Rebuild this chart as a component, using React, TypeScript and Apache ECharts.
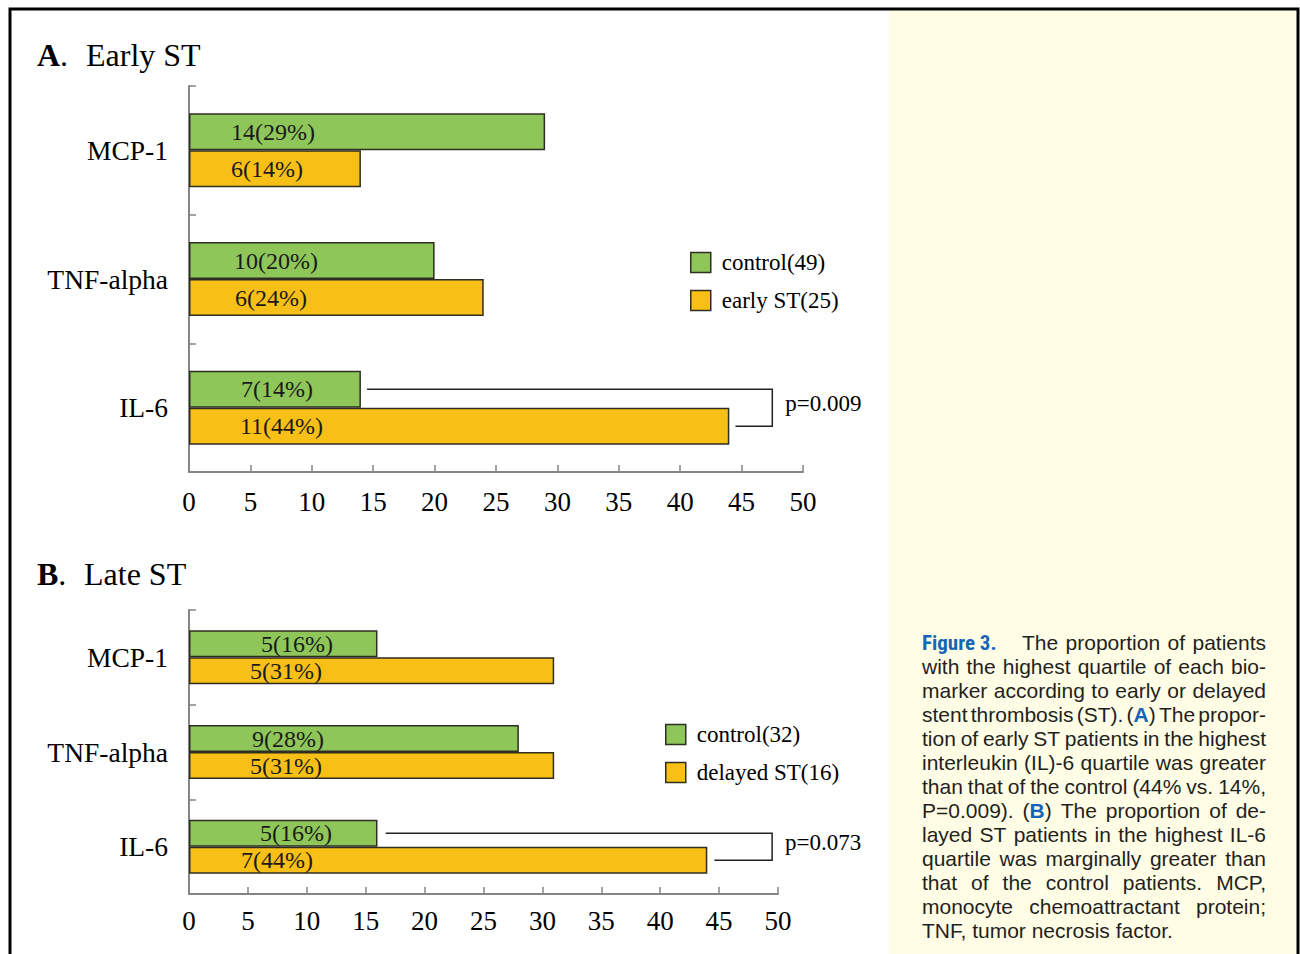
import React, { useEffect, useRef } from "react";
import * as echarts from "echarts";

// ---- data ----
const categories = ["MCP-1", "TNF-alpha", "IL-6"];
const earlyControlValues = [29, 20, 14];
const earlySTValues = [14, 24, 44];
const earlyControlLabels = ["14(29%)", "10(20%)", "7(14%)"];
const earlySTLabels = ["6(14%)", "6(24%)", "11(44%)"];
const lateControlValues = [16, 28, 16];
const lateSTValues = [31, 31, 44];
const lateControlLabels = ["5(16%)", "9(28%)", "5(16%)"];
const lateSTLabels = ["5(31%)", "5(31%)", "7(44%)"];
const legendA = ["control(49)", "early ST(25)"];
const legendB = ["control(32)", "delayed ST(16)"];
const pValueA = "p=0.009";
const pValueB = "p=0.073";
const captionHead = "Figure 3.";
const captionFirst = "The proportion of patients";
const captionLines = [
  "with the highest quartile of each bio-",
  "marker according to early or delayed",
  "stent thrombosis (ST). (A) The propor-",
  "tion of early ST patients in the highest",
  "interleukin (IL)-6 quartile was greater",
  "than that of the control (44% vs. 14%,",
  "P=0.009). (B) The proportion of de-",
  "layed ST patients in the highest IL-6",
  "quartile was marginally greater than",
  "that of the control patients. MCP,",
  "monocyte chemoattractant protein;",
  "TNF, tumor necrosis factor.",
];

// ---- styles (label insets in px from bar start) ----
const insetA = { control: [42, 45, 52], st: [42, 46, 51] };
const insetB = { control: [72, 63, 71], st: [61, 61, 52] };

const GREEN = "#8EC65A";
const YELLOW = "#F8BF17";
const BORDER = "#2e2e22";
const AXIS = "#858585";
const BLUE = "#1565B8";
const TEXT = "#231f20";
const SERIF = "'Liberation Serif', 'Times New Roman', serif";
const SANS = "'Liberation Sans', Arial, sans-serif";
const CAP_FONT = `21px ${SANS}`;
const CAP_BOLD = `bold 21px ${SANS}`;

function makeData(values: number[], insets: number[]) {
  return values.map((v, i) => ({
    value: v,
    label: { position: [insets[i], "50%"] },
  }));
}

function barSeries(
  name: string,
  values: number[],
  labels: string[],
  insets: number[],
  color: string,
  idx: number,
  width: number
) {
  return {
    type: "bar",
    name,
    xAxisIndex: idx,
    yAxisIndex: idx,
    barWidth: width,
    barGap: "0%",
    data: makeData(values, insets),
    itemStyle: { color, borderColor: BORDER, borderWidth: 1.5 },
    label: {
      show: true,
      align: "left",
      verticalAlign: "middle",
      fontFamily: SERIF,
      fontSize: 24,
      color: "#1a1a1a",
      formatter: (p: any) => labels[p.dataIndex],
    },
  };
}

function xAxis(gridIndex: number, margin: number) {
  return {
    type: "value",
    gridIndex,
    min: 0,
    max: 50,
    interval: 5,
    axisLine: { show: true, lineStyle: { color: AXIS, width: 2 } },
    axisTick: { show: true, inside: true, length: 7, lineStyle: { color: AXIS, width: 1.5 } },
    splitLine: { show: false },
    axisLabel: { fontFamily: SERIF, fontSize: 27, color: "#000", margin },
  };
}

function yAxis(gridIndex: number) {
  return {
    type: "category",
    gridIndex,
    data: categories,
    inverse: true,
    axisLine: { show: true, lineStyle: { color: AXIS, width: 2 } },
    axisTick: { show: true, inside: true, length: 7, lineStyle: { color: AXIS, width: 1.5 } },
    axisLabel: { fontFamily: SERIF, fontSize: 27.5, color: "#000", margin: 21 },
  };
}

function legend(data: string[], left: number, top: number) {
  return {
    data,
    orient: "vertical",
    left,
    top,
    itemWidth: 20,
    itemHeight: 20,
    itemGap: 15,
    icon: "rect",
    itemStyle: { borderColor: BORDER, borderWidth: 1.5 },
    textStyle: { fontFamily: SERIF, fontSize: 23, color: "#000", padding: [0, 0, 0, 6] },
    selectedMode: false,
  };
}

export default function App() {
  const ref = useRef<HTMLDivElement>(null);
  useEffect(() => {
    document.body.style.margin = "0";
    const chart = echarts.init(ref.current!, undefined, { renderer: "svg" });
    const option: any = {
      animation: false,
      backgroundColor: "#ffffff",
      grid: [
        { left: 189, top: 86, width: 614, height: 386 },
        { left: 189, top: 610, width: 589, height: 284 },
      ],
      xAxis: [xAxis(0, 16), xAxis(1, 13)],
      yAxis: [yAxis(0), yAxis(1)],
      legend: [legend(legendA, 685, 246), legend(legendB, 660, 718)],
      series: [
        barSeries(legendA[0], earlyControlValues, earlyControlLabels, insetA.control, GREEN, 0, 37),
        barSeries(legendA[1], earlySTValues, earlySTLabels, insetA.st, YELLOW, 0, 37),
        barSeries(legendB[0], lateControlValues, lateControlLabels, insetB.control, GREEN, 1, 27),
        barSeries(legendB[1], lateSTValues, lateSTLabels, insetB.st, YELLOW, 1, 27),
      ],
    };
    chart.setOption(option);

    // bracket annotations computed via the axes
    const bracket = (gi: number, topStart: number, right: number, botStart: number, half: number, text: string) => {
      const c = chart.convertToPixel({ gridIndex: gi } as any, [0, "IL-6"]) as number[];
      const xs = chart.convertToPixel({ gridIndex: gi } as any, [topStart, "IL-6"]) as number[];
      const xr = chart.convertToPixel({ gridIndex: gi } as any, [right, "IL-6"]) as number[];
      const xb = chart.convertToPixel({ gridIndex: gi } as any, [botStart, "IL-6"]) as number[];
      const yTop = c[1] - half;
      const yBot = c[1] + half;
      return [
        {
          type: "polyline",
          shape: { points: [[xs[0], yTop], [xr[0], yTop], [xr[0], yBot], [xb[0], yBot]] },
          style: { stroke: "#222", lineWidth: 1.5, fill: "none" },
        },
        {
          type: "text",
          x: xr[0] + 13,
          y: c[1] - 4,
          style: { text, font: `23px ${SERIF}`, fill: "#000", textVerticalAlign: "middle" },
        },
      ];
    };

    // justified caption, word by word
    const ctx = document.createElement("canvas").getContext("2d")!;
    const measure = (t: string, f: string) => {
      ctx.font = f;
      return ctx.measureText(t).width;
    };
    const wordEl = (word: string, x: number, y: number) => {
      const m = word.match(/^(\()([AB])(\).*)$/);
      if (m) {
        return {
          el: {
            type: "text",
            x,
            y,
            style: {
              text: `{n|${m[1]}}{b|${m[2]}}{n|${m[3]}}`,
              rich: {
                n: { font: CAP_FONT, fill: TEXT } as any,
                b: { font: CAP_BOLD, fill: BLUE } as any,
              },
              font: CAP_FONT,
              fill: TEXT,
              textVerticalAlign: "middle",
            },
          },
          w: measure(m[1], CAP_FONT) + measure(m[2], CAP_BOLD) + measure(m[3], CAP_FONT),
        };
      }
      return {
        el: {
          type: "text",
          x,
          y,
          style: { text: word, font: CAP_FONT, fill: TEXT, textVerticalAlign: "middle" },
        },
        w: measure(word, CAP_FONT),
      };
    };
    const layoutLine = (line: string, x0: number, x1: number, y: number, justify: boolean) => {
      const words = line.split(" ");
      const items = words.map((wd) => wordEl(wd, 0, y));
      const total = items.reduce((s, it) => s + it.w, 0);
      const space = measure(" ", CAP_FONT);
      const gap = justify && words.length > 1 ? (x1 - x0 - total) / (words.length - 1) : space;
      let x = x0;
      return items.map((it) => {
        it.el.x = x;
        x += it.w + gap;
        return it.el;
      });
    };

    const captionTop = 642.7;
    const lh = 23.95;
    const capLeft = 922;
    const capRight = 1266;
    const captionEls: any[] = [
      {
        type: "text",
        x: capLeft,
        y: captionTop,
        style: {
          text: captionHead,
          font: `bold 21px 'Liberation Sans Narrow', 'Roboto Condensed', ${SANS}`,
          fill: BLUE,
          textVerticalAlign: "middle",
        },
      },
      ...layoutLine(captionFirst, 1022, capRight, captionTop, true),
    ];
    captionLines.forEach((line, i) => {
      const y = captionTop + lh * (i + 1);
      captionEls.push(...layoutLine(line, capLeft, capRight, y, i < captionLines.length - 1));
    });

    chart.setOption({
      graphic: [
        {
          type: "rect",
          shape: { x: 889, y: 10, width: 410, height: 950 },
          style: { fill: "#FFFDE6" },
          z: -10,
        },
        {
          type: "rect",
          shape: { x: 10, y: 9, width: 1288, height: 960 },
          style: { fill: "none", stroke: "#000", lineWidth: 3 },
        },
        {
          type: "text",
          x: 37,
          y: 55,
          style: {
            text: "{b|A}{n|.}",
            rich: { b: { font: `bold 32px ${SERIF}` } as any, n: { font: `32px ${SERIF}` } as any },
            fill: "#000",
            textVerticalAlign: "middle",
          },
        },
        {
          type: "text",
          x: 86,
          y: 55,
          style: { text: "Early ST", font: `32px ${SERIF}`, fill: "#000", textVerticalAlign: "middle" },
        },
        {
          type: "text",
          x: 37,
          y: 574,
          style: {
            text: "{b|B}{n|.}",
            rich: { b: { font: `bold 32px ${SERIF}` } as any, n: { font: `32px ${SERIF}` } as any },
            fill: "#000",
            textVerticalAlign: "middle",
          },
        },
        {
          type: "text",
          x: 84,
          y: 574,
          style: { text: "Late ST", font: `32px ${SERIF}`, fill: "#000", textVerticalAlign: "middle" },
        },
        ...bracket(0, 14.5, 47.5, 44.5, 18.5, pValueA),
        ...bracket(1, 16.7, 49.5, 44.6, 13.5, pValueB),
        ...captionEls,
      ],
    });

    return () => chart.dispose();
  }, []);
  return (
    <div
      ref={ref}
      style={{ position: "fixed", left: 0, top: 0, width: 1300, height: 954 }}
    />
  );
}
